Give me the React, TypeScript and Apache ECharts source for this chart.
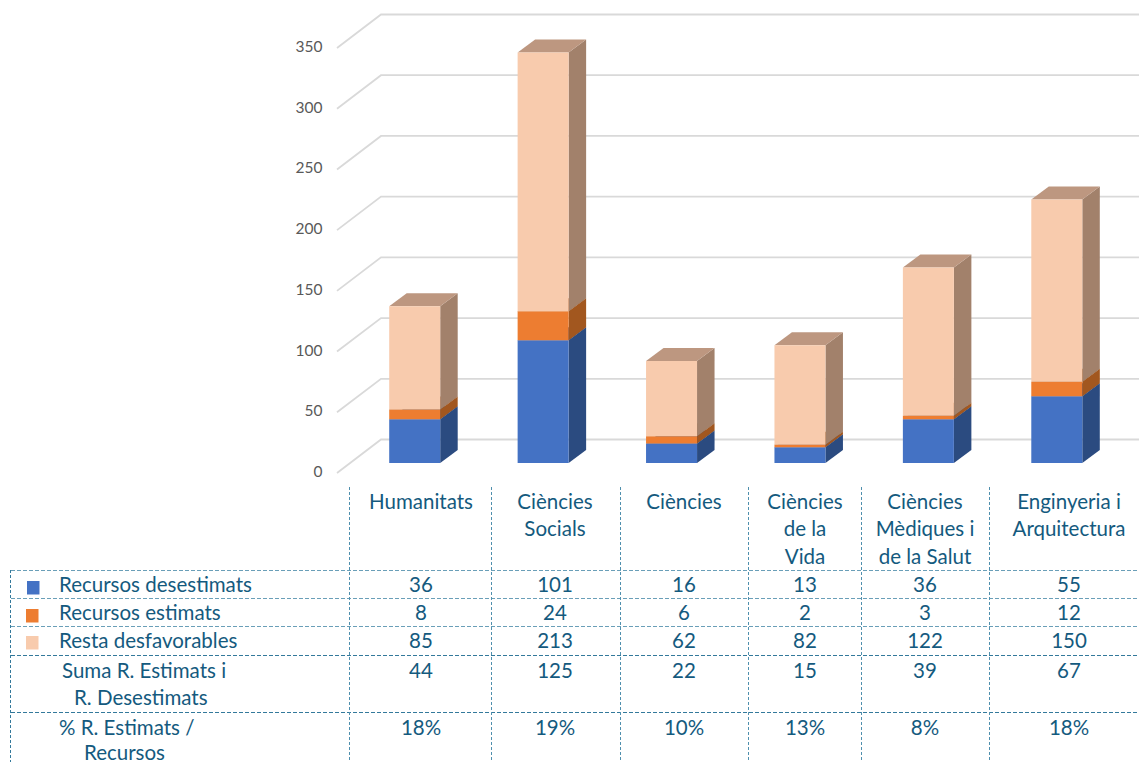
import React, { useEffect, useRef } from "react";
import * as echarts from "echarts";

const categories = ["Humanitats", "Ciències Socials", "Ciències", "Ciències de la Vida", "Ciències Mèdiques i de la Salut", "Enginyeria i Arquitectura"];
const headerLines = [["Humanitats"], ["Ciències", "Socials"], ["Ciències"], ["Ciències", "de la", "Vida"], ["Ciències", "Mèdiques i", "de la Salut"], ["Enginyeria i", "Arquitectura"]];
const desestimats = [36, 101, 16, 13, 36, 55];
const estimats = [8, 24, 6, 2, 3, 12];
const desfavorables = [85, 213, 62, 82, 122, 150];
const suma = [44, 125, 22, 15, 39, 67];
const percent = ["18%", "19%", "10%", "13%", "8%", "18%"];
const yTicks = [0, 50, 100, 150, 200, 250, 300, 350];

const TEXT = "#145a7e";
const FONT = "Lato, 'Open Sans', sans-serif";
const FS = 20.5;

const colX = [349.5, 491.5, 620.5, 748.5, 861.5, 989.5];
const colCenter = [421, 555, 684, 805, 925, 1069];

function shade(front: string, side: string, top: string) {
  return { front, side, top };
}

function App() {
  const ref = useRef<HTMLDivElement>(null);
  useEffect(() => {
    const chart = echarts.init(ref.current!, undefined, { renderer: "svg" });
    const DX = 17.5, DY = 13, BW = 51;

    const barSeries = (name: string, vals: number[], bases: number[], c: { front: string; side: string; top: string }) => ({
      type: "custom",
      name,
      coordinateSystem: "cartesian2d",
      clip: false,
      data: vals.map((v, i) => [i, bases[i], bases[i] + v]),
      encode: { x: 0, y: [1, 2] },
      renderItem: (_p: any, api: any) => {
        const a = api.coord([api.value(0), api.value(1)]);
        const b = api.coord([api.value(0), api.value(2)]);
        const l = a[0] - BW / 2, r = a[0] + BW / 2;
        return {
          type: "group",
          children: [
            { type: "polygon", shape: { points: [[r, a[1]], [r + DX, a[1] - DY], [r + DX, b[1] - DY], [r, b[1]]] }, style: { fill: c.side } },
            { type: "polygon", shape: { points: [[l, b[1]], [l + DX, b[1] - DY], [r + DX, b[1] - DY], [r, b[1]]] }, style: { fill: c.top } },
            { type: "rect", shape: { x: l, y: b[1], width: BW, height: a[1] - b[1] }, style: { fill: c.front } },
          ],
        };
      },
    });

    const base2 = desestimats.map((v, i) => v + estimats[i]);

    const grids = {
      type: "custom",
      name: "Graella",
      coordinateSystem: "cartesian2d",
      clip: false,
      silent: true,
      data: yTicks.map((v) => [0, v]),
      encode: { x: 0, y: 1 },
      renderItem: (_p: any, api: any) => {
        const y = api.coord([0, api.value(1)])[1];
        const lineStyle = { stroke: "#d9d9d9", lineWidth: 1.8, fill: "none" };
        return {
          type: "polyline",
          shape: { points: [[337, y + 10], [381, y - 23.5], [1139, y - 23.5]] },
          style: lineStyle,
        };
      },
    };

    const txt = (s: string, x: number, y: number, align: "center" | "left" = "center") => ({
      type: "text",
      x,
      y,
      silent: true,
      style: { text: s, x: 0, y: 0, fill: TEXT, font: `${FS}px ${FONT}`, textAlign: align, textVerticalAlign: "middle" },
    });
    const dash = (x1: number, y1: number, x2: number, y2: number, stroke: string, d: number[]) => ({
      type: "line",
      silent: true,
      shape: { x1, y1, x2, y2 },
      style: { stroke, lineWidth: 1, lineDash: d },
    });

    const graphics: any[] = [];
    [570.5, 598.5, 626.5].forEach((y) => graphics.push(dash(11, y, 1139, y, "#6a9fb8", [4, 2])));
    [655.5, 712.5].forEach((y) => graphics.push(dash(11, y, 1139, y, "#33799b", [4, 2])));
    colX.forEach((x) => graphics.push(dash(x, 487, x, 762, "#4f8fad", [3, 2])));
    graphics.push(dash(10.5, 570, 10.5, 762, "#33799b", [3, 2]));

    const headerY = [501, 528, 556];
    headerLines.forEach((lines, i) => lines.forEach((s, j) => graphics.push(txt(s, colCenter[i], headerY[j]))));
    const rowLabels: [string, number, number][] = [
      ["Recursos desestimats", 59, 584],
      ["Recursos estimats", 59, 612],
      ["Resta desfavorables", 59, 640],
      ["Suma R. Estimats i", 62, 670],
      ["R. Desestimats", 74, 697],
      ["% R. Estimats /", 59, 727],
      ["Recursos", 84, 751.5],
    ];
    rowLabels.forEach(([s, x, y]) => graphics.push(txt(s, x, y, "left")));
    const rows: [(string | number)[], number][] = [
      [desestimats, 584],
      [estimats, 612],
      [desfavorables, 640],
      [suma, 670],
      [percent, 727],
    ];
    rows.forEach(([vals, y]) => vals.forEach((v, i) => graphics.push(txt(String(v), colCenter[i], y))));
    const keys: [string, number, number][] = [
      ["#4472c4", 27, 581],
      ["#ed7d31", 26, 609],
      ["#f8cbad", 26, 636],
    ];
    keys.forEach(([fill, x, y]) =>
      graphics.push({ type: "rect", silent: true, shape: { x, y, width: 12.5, height: 13.5 }, style: { fill } })
    );

    chart.setOption({
      animation: false,
      backgroundColor: "#fff",
      grid: { left: 350.5, width: 770.5, top: 38, height: 425 },
      xAxis: { type: "category", data: categories, show: false },
      yAxis: {
        type: "value",
        min: 0,
        max: 350,
        interval: 50,
        axisLine: { show: false },
        axisTick: { show: false },
        splitLine: { show: false },
        axisLabel: { color: "#595959", fontSize: 15.5, fontFamily: FONT, margin: 28, verticalAlign: "top" },
      },
      graphic: { elements: graphics },
      series: [
        grids,
        barSeries("Recursos desestimats", desestimats, desestimats.map(() => 0), shade("#4472c4", "#2b4b80", "#2b4b80")),
        barSeries("Recursos estimats", estimats, desestimats, shade("#ed7d31", "#a2571f", "#a2571f")),
        barSeries("Resta desfavorables", desfavorables, base2, shade("#f8cbad", "#a2816b", "#bd9780")),
      ],
    });
    return () => chart.dispose();
  }, []);
  return <div ref={ref} style={{ position: "absolute", left: 0, top: 0, width: 1139, height: 762 }} />;
}

export default App;
